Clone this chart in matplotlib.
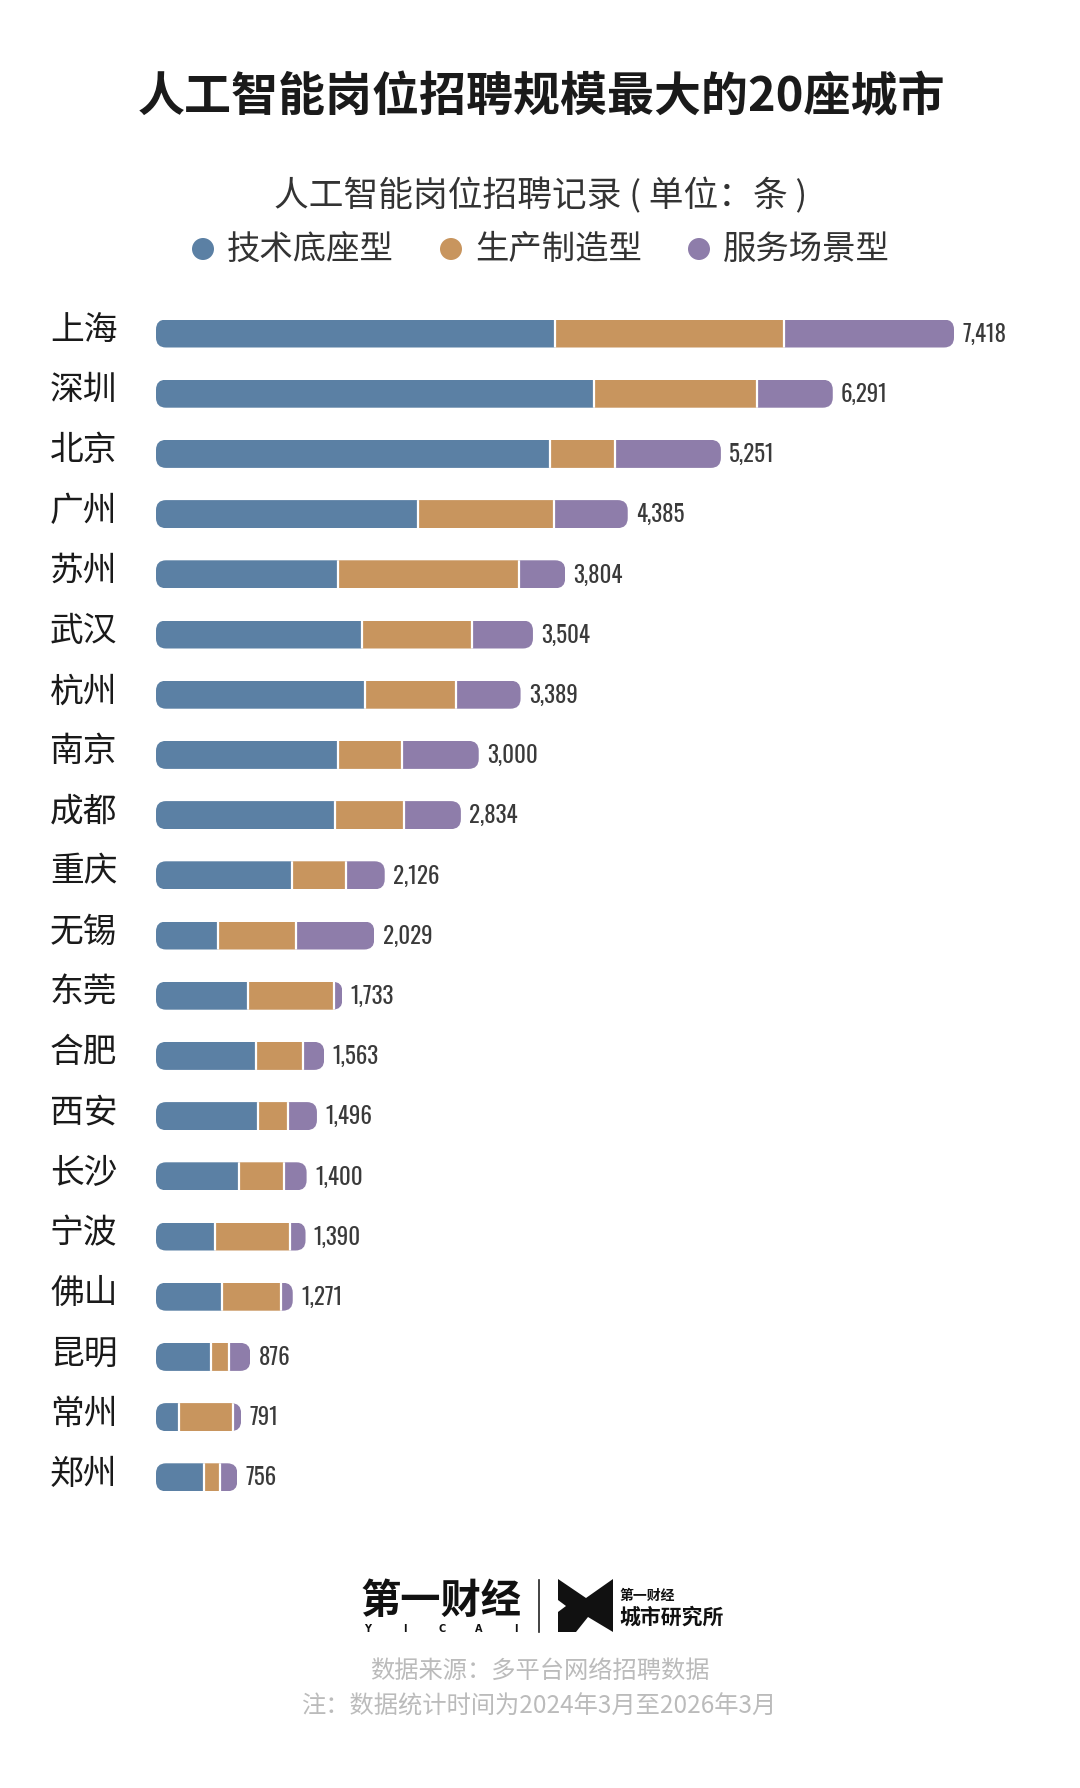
import matplotlib
matplotlib.use("Agg")
import matplotlib.pyplot as plt
from matplotlib.patches import FancyBboxPatch, Polygon, Ellipse
from matplotlib import transforms

plt.rcParams['font.family'] = ['Noto Sans CJK SC', 'DejaVu Sans']

# ---------------- data ----------------
cities = ["上海", "深圳", "北京", "广州", "苏州", "武汉", "杭州", "南京", "成都", "重庆",
          "无锡", "东莞", "合肥", "西安", "长沙", "宁波", "佛山", "昆明", "常州", "郑州"]
totals = [7418, 6291, 5251, 4385, 3804, 3504, 3389, 3000, 2834, 2126,
          2029, 1733, 1563, 1496, 1400, 1390, 1271, 876, 791, 756]
tech = [3712, 4073, 3667, 2432, 1692, 1911, 1943, 1692, 1660, 1261,
        573, 856, 933, 946, 772, 553, 611, 508, 212, 450]
manuf = [2123, 1512, 598, 1268, 1686, 1029, 849, 598, 643, 502,
         733, 798, 438, 283, 418, 688, 553, 167, 502, 148]
service = [t - a - b for t, a, b in zip(totals, tech, manuf)]

series_names = ["技术底座型", "生产制造型", "服务场景型"]
colors = ["#5b80a4", "#c8955e", "#8e7daa"]

title = "人工智能岗位招聘规模最大的20座城市"
subtitle = "人工智能岗位招聘记录 ( 单位：条 )"
source1 = "数据来源：多平台网络招聘数据"
source2 = "注：数据统计时间为2024年3月至2026年3月"

NUM_FONT = ["Oswald", "Antonio", "Barlow Condensed", "DejaVu Sans"]

# ---------------- layout ----------------
W, H = 1080, 1788
fig = plt.figure(figsize=(W / 100, H / 100), dpi=100)
fig.patch.set_facecolor("white")

def fx(x):
    return x / W

def fy(y):
    return 1 - y / H

ax_left_px = 156
row0_px = 333.5
row_step = 60.2
n = len(cities)
ax_top_px = row0_px - row_step / 2
ax_bot_px = row0_px + row_step * (n - 0.5)
ax = fig.add_axes([fx(ax_left_px), fy(ax_bot_px), (W - ax_left_px) / W,
                   (ax_bot_px - ax_top_px) / H])
px_per_unit = 798 / max(totals)
xmax = (W - ax_left_px) / px_per_unit
ax.set_xlim(0, xmax)
ax.set_ylim(n - 0.5, -0.5)
ax.axis("off")

bar_h = 28 / row_step
radius_px = 10
r_x = radius_px / px_per_unit
aspect = px_per_unit / row_step

for i in range(n):
    clip = FancyBboxPatch((0, i - bar_h / 2), totals[i], bar_h,
                          boxstyle=f"round,pad=0,rounding_size={r_x}",
                          mutation_aspect=aspect, transform=ax.transData)
    left = 0
    segs = [tech[i], manuf[i], service[i]]
    for v, c in zip(segs, colors):
        b = ax.barh(i, v, left=left, height=bar_h, color=c, linewidth=0)
        for p in b:
            p.set_clip_path(clip)
        left += v
    for bnd in [tech[i], tech[i] + manuf[i]]:
        ln, = ax.plot([bnd, bnd], [i - bar_h / 2, i + bar_h / 2], color="white", lw=1.6,
                      solid_capstyle="butt")
        ln.set_clip_path(clip)
    ax.annotate(f"{totals[i]:,}", xy=(totals[i], i), xytext=(6, -0.5),
                textcoords="offset points", ha="left", va="center",
                fontsize=16.5, color="#3a3a3a", family=NUM_FONT, fontweight=200)

lbl_tr = transforms.blended_transform_factory(fig.transFigure, ax.transData)
for i, c in enumerate(cities):
    ax.text(fx(50), i - 0.05, c, transform=lbl_tr, ha="left", va="center",
            fontsize=24.3, color="#1a1a1a")

# ---------------- titles & legend ----------------
fig.text(fx(541), fy(97), title, ha="center", va="center", fontsize=33.8,
         fontweight="bold", color="#1a1a1a")
fig.text(fx(541), fy(196), subtitle, ha="center", va="center", fontsize=25,
         fontweight="light", color="#333333")

leg_x_marker = [203, 451, 699]
leg_y = 249
for xm, name, c in zip(leg_x_marker, series_names, colors):
    fig.patches.append(Ellipse((fx(xm), fy(leg_y)), 22 / W, 22 / H,
                               transform=fig.transFigure, facecolor=c, edgecolor="none"))
    fig.text(fx(xm + 24), fy(leg_y), name, ha="left", va="center", fontsize=24,
             fontweight="light", color="#333333")

# ---------------- footer / logo ----------------
fig.text(fx(441), fy(1601), "第一财经", ha="center", va="center", fontsize=29,
         fontweight="black", color="#111111")
for k, ch in enumerate("YICAI"):
    fig.text(fx(368 + k * 37), fy(1629), ch, ha="center", va="center", fontsize=7,
             fontweight="bold", color="#111111", family=["DejaVu Sans"])
fig.add_artist(plt.Line2D([fx(539), fx(539)], [fy(1580), fy(1632)], color="#222222",
                          lw=1.2, transform=fig.transFigure))
icon_pts = [(558, 1579), (586, 1598), (613, 1579), (613, 1632), (588, 1617),
            (576, 1632), (558, 1632), (558, 1612), (566, 1606), (558, 1600)]
fig.patches.append(Polygon([(fx(a), fy(b)) for a, b in icon_pts], closed=True,
                           transform=fig.transFigure, facecolor="#111111",
                           edgecolor="none"))
fig.text(fx(620), fy(1596), "第一财经", ha="left", va="center", fontsize=10,
         fontweight="bold", color="#111111")
fig.text(fx(619), fy(1617), "城市研究所", ha="left", va="center", fontsize=15,
         fontweight="bold", color="#111111")

fig.text(fx(540), fy(1671), source1, ha="center", va="center", fontsize=17.5,
         color="#bbbbbb")
fig.text(fx(540), fy(1707), source2, ha="center", va="center", fontsize=17.5,
         color="#bbbbbb")

fig.savefig("out.png", dpi=100, facecolor="white")
